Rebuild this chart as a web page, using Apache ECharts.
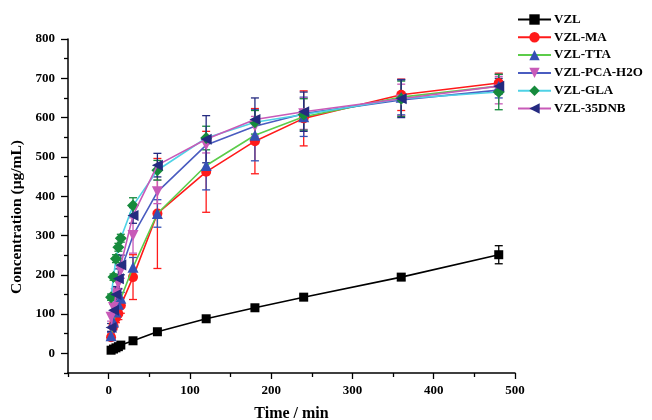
<!DOCTYPE html>
<html>
<head>
<meta charset="utf-8">
<script src="https://cdn.jsdelivr.net/npm/echarts@6/dist/echarts.min.js"></script>
<style>
  html, body { margin: 0; padding: 0; background: #fff; }
  #chart { width: 652px; height: 420px; }
</style>
</head>
<body>
<div id="chart"></div>
<script>
// Sampling times (min)
const times = [3, 6, 9, 12, 15, 30, 60, 120, 180, 240, 360, 480];

// Mean concentration (µg/mL) and standard deviation per formulation
const vzl      = [8, 11, 14, 17, 21, 32, 55, 88, 116, 143, 194, 251];
const vzlErr   = [2, 2, 2, 2, 3, 4, 4, 5, 5, 6, 8, 23];
const vzlMA    = [41, 70, 90, 101, 122, 194, 356, 462, 540, 598, 658, 688];
const vzlMAErr = [8, 10, 12, 15, 20, 57, 140, 103, 83, 70, 40, 25];
const vzlTTA   = [45, 80, 105, 125, 140, 219, 356, 478, 555, 602, 652, 680];
const vzlTTAErr = [8, 10, 12, 15, 15, 25, 35, 62, 65, 50, 45, 30];
const vzlPCA   = [92, 117, 152, 178, 211, 300, 411, 530, 578, 610, 645, 670];
const vzlPCAErr = [10, 12, 15, 15, 20, 45, 30, 20, 25, 40, 40, 35];
const vzlGLA   = [143, 194, 241, 270, 293, 376, 466, 548, 588, 608, 648, 665];
const vzlGLAErr = [8, 8, 10, 10, 10, 20, 25, 30, 30, 40, 45, 45];
const vzl35    = [66, 110, 150, 190, 225, 351, 479, 545, 595, 615, 648, 680];
const vzl35Err = [10, 15, 20, 25, 25, 20, 30, 60, 55, 50, 48, 20];

// Axis ranges and tick positions
const xRange = [-50, 500];
const yRange = [-50, 800];
const xMajorTicks = [0, 100, 200, 300, 400, 500];
const xMinorTicks = [-50, 50, 150, 250, 350, 450];
const yMajorTicks = [0, 100, 200, 300, 400, 500, 600, 700, 800];
const yMinorTicks = [-50, 50, 150, 250, 350, 450, 550, 650, 750];

const serif = 'Liberation Serif';

const groups = [
  { name: 'VZL',         y: vzl,    e: vzlErr,    line: '#000000', mark: '#000000', symbol: 'rect',     rot: 0,   size: 9 },
  { name: 'VZL-MA',      y: vzlMA,  e: vzlMAErr,  line: '#ff1a1a', mark: '#ff1a1a', symbol: 'circle',   rot: 0,   size: 10 },
  { name: 'VZL-TTA',     y: vzlTTA, e: vzlTTAErr, line: '#5ccc4a', mark: '#3550b4', symbol: 'triangle', rot: 0,   size: 11 },
  { name: 'VZL-PCA-H2O', y: vzlPCA, e: vzlPCAErr, line: '#4a5cc0', mark: '#c85ab8', symbol: 'triangle', rot: 180, size: 11 },
  { name: 'VZL-GLA',     y: vzlGLA, e: vzlGLAErr, line: '#4fd2e6', mark: '#168a3c', symbol: 'diamond',  rot: 0,   size: 12 },
  { name: 'VZL-35DNB',   y: vzl35,  e: vzl35Err,  line: '#c85ab8', mark: '#242a80', symbol: 'triangle', rot: 90,  size: 11 }
];

const series = [];
groups.forEach((g, gi) => {
  // error bars: vertical whisker with caps, drawn under the markers
  series.push({
    type: 'custom',
    name: g.name + '-err',
    xAxisIndex: 0,
    yAxisIndex: 0,
    z: 2 + gi,
    silent: true,
    data: times.map((t, i) => [t, g.y[i], g.e[i]]),
    renderItem: function (params, api) {
      const x = api.value(0), y = api.value(1), e = api.value(2);
      const lo = api.coord([x, y - e]);
      const hi = api.coord([x, y + e]);
      const cap = 4;
      const style = { stroke: g.mark, lineWidth: 1.3 };
      return {
        type: 'group',
        children: [
          { type: 'line', shape: { x1: lo[0], y1: lo[1], x2: hi[0], y2: hi[1] }, style: style },
          { type: 'line', shape: { x1: lo[0] - cap, y1: lo[1], x2: lo[0] + cap, y2: lo[1] }, style: style },
          { type: 'line', shape: { x1: hi[0] - cap, y1: hi[1], x2: hi[0] + cap, y2: hi[1] }, style: style }
        ]
      };
    }
  });
  series.push({
    type: 'line',
    name: g.name,
    xAxisIndex: 0,
    yAxisIndex: 0,
    z: 10 + gi,
    data: times.map((t, i) => [t, g.y[i]]),
    symbol: g.symbol,
    symbolSize: g.size,
    symbolRotate: g.rot,
    showAllSymbol: true,
    lineStyle: { color: g.line, width: 1.6 },
    itemStyle: { color: g.mark, borderWidth: 0 },
    emphasis: { disabled: true },
    animation: false
  });
});

const tickLabel = { fontFamily: serif, fontWeight: 'bold', fontSize: 13, color: '#000' };
const axisLine = { show: true, onZero: false, lineStyle: { color: '#000', width: 1.5 } };
const hiddenLine = { show: false, onZero: false };

const chart = echarts.init(document.getElementById('chart'), null, { renderer: 'canvas' });
chart.setOption({
  animation: false,
  backgroundColor: '#ffffff',
  grid: { left: 68, right: 137, top: 39, bottom: 47, containLabel: false, outerBoundsMode: 'none' },
  legend: {
    orient: 'vertical',
    left: 512,
    top: 8,
    itemWidth: 33,
    itemHeight: 13,
    itemGap: 4.8,
    data: groups.map(g => g.name),
    textStyle: { fontFamily: serif, fontWeight: 'bold', fontSize: 13, color: '#000', padding: [0, 0, 0, -2] },
    selectedMode: false
  },
  xAxis: [
    {
      type: 'value', min: xRange[0], max: xRange[1],
      name: 'Time / min', nameLocation: 'middle', nameGap: 33,
      nameTextStyle: { fontFamily: serif, fontWeight: 'bold', fontSize: 16, color: '#000' },
      axisLine: axisLine,
      axisTick: { show: true, inside: false, length: 6, customValues: xMajorTicks, lineStyle: { color: '#000', width: 1.3 } },
      axisLabel: { ...tickLabel, margin: 11, customValues: xMajorTicks },
      splitLine: { show: false }
    },
    {
      type: 'value', min: xRange[0], max: xRange[1], position: 'bottom',
      axisLine: hiddenLine,
      axisTick: { show: true, inside: false, length: 4, customValues: xMinorTicks, lineStyle: { color: '#000', width: 1.3 } },
      axisLabel: { show: false },
      splitLine: { show: false }
    }
  ],
  yAxis: [
    {
      type: 'value', min: yRange[0], max: yRange[1],
      name: 'Concentration (μg/mL)', nameLocation: 'middle', nameGap: 33,
      nameTextStyle: { fontFamily: serif, fontWeight: 'bold', fontSize: 15.5, color: '#000', padding: [0, 22, 0, 0] },
      axisLine: axisLine,
      axisTick: { show: true, inside: false, length: 7, customValues: yMajorTicks, lineStyle: { color: '#000', width: 1.3 } },
      axisLabel: { ...tickLabel, margin: 13, customValues: yMajorTicks },
      splitLine: { show: false }
    },
    {
      type: 'value', min: yRange[0], max: yRange[1], position: 'left',
      axisLine: hiddenLine,
      axisTick: { show: true, inside: false, length: 4, customValues: yMinorTicks, lineStyle: { color: '#000', width: 1.3 } },
      axisLabel: { show: false },
      splitLine: { show: false }
    }
  ],
  series: series
});
</script>
</body>
</html>
